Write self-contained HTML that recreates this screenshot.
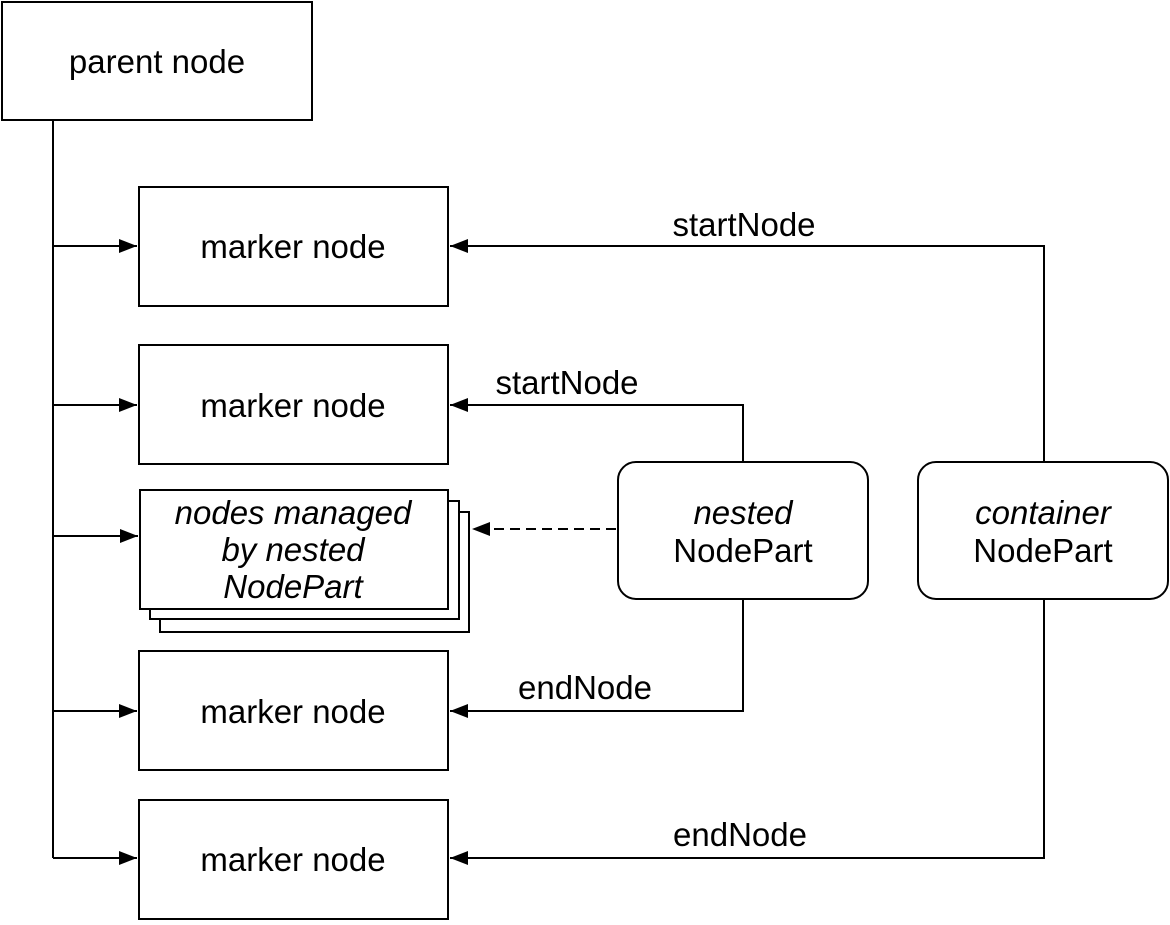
<!DOCTYPE html>
<html><head><style>body{margin:0;background:#fff}</style></head><body>
<svg width="1170" height="920" xmlns="http://www.w3.org/2000/svg" font-family="Liberation Sans, sans-serif" font-size="33">
<defs><marker id="a" markerWidth="20" markerHeight="14" refX="18" refY="7" orient="auto" markerUnits="userSpaceOnUse"><path d="M0,0 L18,7 L0,14 z" fill="#000"/></marker></defs>
<g fill="#fff" stroke="#000" stroke-width="2">
<rect x="2" y="2" width="310" height="118"/>
<rect x="139" y="187" width="309" height="119"/>
<rect x="139" y="345" width="309" height="119"/>
<rect x="160" y="512" width="309" height="120"/>
<rect x="150" y="501" width="309" height="118"/>
<rect x="140" y="490" width="308" height="119"/>
<rect x="139" y="651" width="309" height="119"/>
<rect x="139" y="800" width="309" height="119"/>
<rect x="618" y="462" width="250" height="137" rx="18"/>
<rect x="918" y="462" width="250" height="137" rx="18"/>
</g>
<g fill="none" stroke="#000" stroke-width="2">
<path d="M53 120 V858"/>
<path d="M53 246 H137" marker-end="url(#a)"/>
<path d="M53 405 H137" marker-end="url(#a)"/>
<path d="M53 536 H138" marker-end="url(#a)"/>
<path d="M53 711 H137" marker-end="url(#a)"/>
<path d="M53 858 H137" marker-end="url(#a)"/>
<path d="M1044 462 V246 H450" marker-end="url(#a)"/>
<path d="M743 462 V405 H450" marker-end="url(#a)"/>
<path d="M743 599 V711 H450" marker-end="url(#a)"/>
<path d="M1044 599 V858 H450" marker-end="url(#a)"/>
<path d="M616 529 H472" stroke-dasharray="10,6" marker-end="url(#a)"/>
</g>
<g text-anchor="middle">
<text x="157" y="73">parent node</text>
<text x="293" y="258">marker node</text>
<text x="293" y="417">marker node</text>
<text x="293" y="723">marker node</text>
<text x="293" y="871">marker node</text>
<text x="744" y="236">startNode</text>
<text x="567" y="394">startNode</text>
<text x="585" y="699">endNode</text>
<text x="740" y="846">endNode</text>
<g font-style="italic">
<text x="293" y="524">nodes managed</text>
<text x="293" y="561">by nested</text>
<text x="293" y="598">NodePart</text>
<text x="743" y="524">nested</text>
<text x="1043" y="524">container</text>
</g>
<text x="743" y="562">NodePart</text>
<text x="1043" y="562">NodePart</text>
</g>
</svg>
</body></html>
